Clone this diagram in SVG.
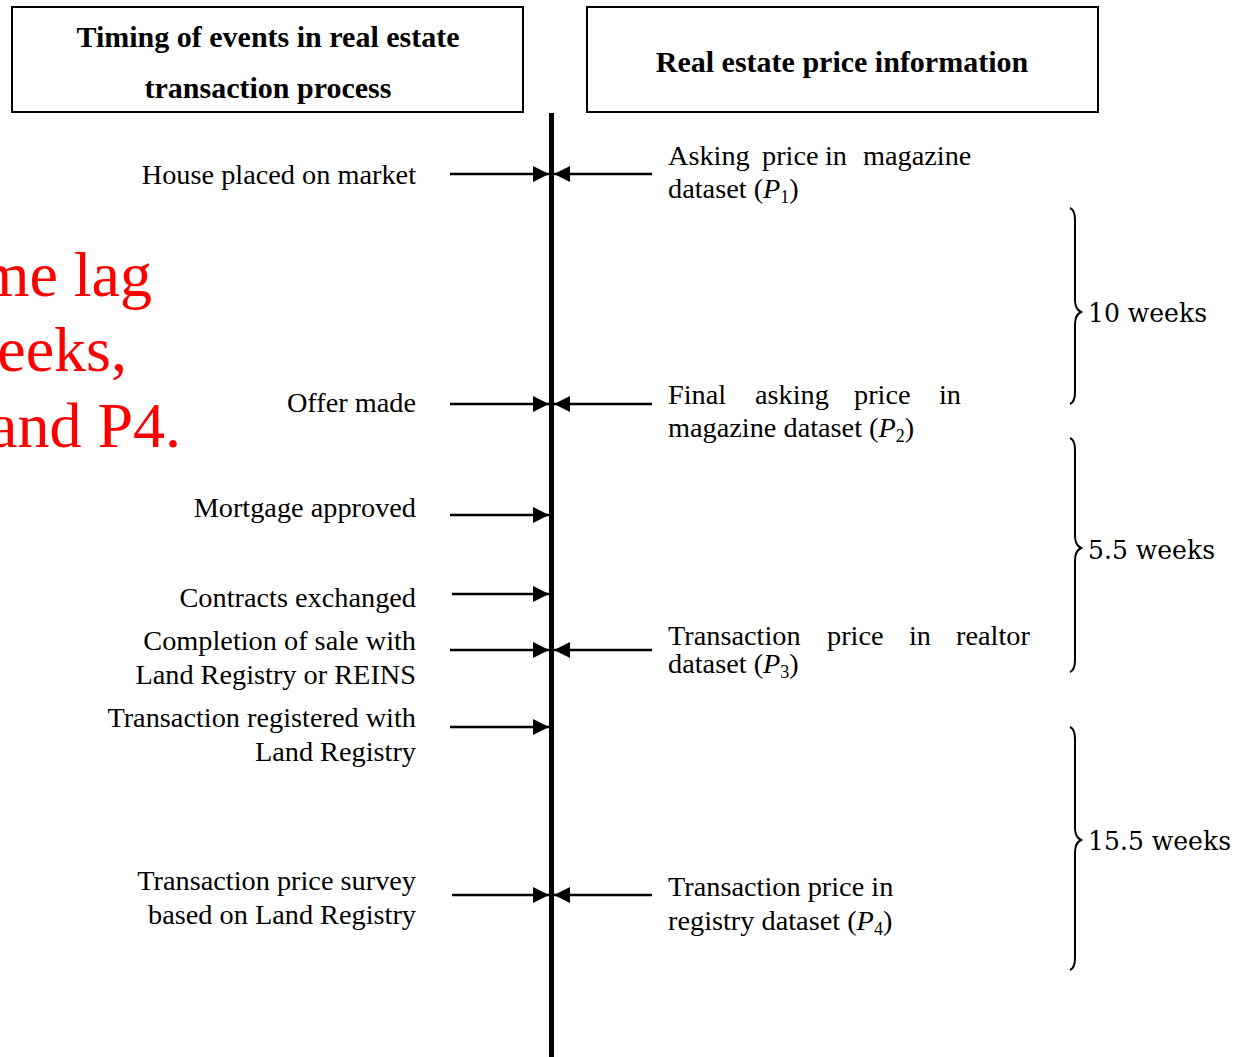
<svg xmlns="http://www.w3.org/2000/svg" width="1234" height="1057" viewBox="0 0 1234 1057">
<style>
.box{fill:#fff;stroke:#000;stroke-width:2}
.title{font-family:"Liberation Serif",serif;font-weight:bold;font-size:30px;fill:#000;text-anchor:middle}
.lt{font-family:"Liberation Serif",serif;font-size:28.3px;fill:#000;text-anchor:end}
.rt{font-family:"Liberation Serif",serif;font-size:28.3px;fill:#000}
.wk{font-family:"DejaVu Serif","Liberation Serif",serif;font-size:26px;fill:#000}
.red{font-family:"Liberation Serif",serif;font-size:64px;fill:#ff0000;text-anchor:end}
.arr{stroke:#000;stroke-width:2.5;fill:none}
.brace{stroke:#000;stroke-width:2;fill:none}
</style>
<defs>
<marker id="ah" markerUnits="userSpaceOnUse" markerWidth="16" markerHeight="18" refX="16" refY="9" orient="auto">
<path d="M0,1 L16,9 L0,17 Z" fill="#000"/>
</marker>
</defs>
<rect width="1234" height="1057" fill="#fff"/>
<g id="red-note">
<text class="red" x="152" y="296">me lag</text>
<text class="red" x="127" y="371">eeks,</text>
<text class="red" x="181" y="447">and P4.</text>
</g>
<g id="header-left">
<rect class="box" x="12" y="7" width="511" height="105"/>
<text class="title" x="268" y="47">Timing of events in real estate</text>
<text class="title" x="268" y="98">transaction process</text>
</g>
<g id="header-right">
<rect class="box" x="587" y="7" width="511" height="105"/>
<text class="title" x="842" y="72">Real estate price information</text>
</g>
<g id="timeline">
<line x1="551.5" y1="113" x2="551.5" y2="1057" stroke="#000" stroke-width="5"/>
</g>
<g id="connectors">
<line class="arr" x1="450" y1="174" x2="549" y2="174" marker-end="url(#ah)"/>
<line class="arr" x1="652" y1="174" x2="554" y2="174" marker-end="url(#ah)"/>
<line class="arr" x1="450" y1="404" x2="549" y2="404" marker-end="url(#ah)"/>
<line class="arr" x1="652" y1="404" x2="554" y2="404" marker-end="url(#ah)"/>
<line class="arr" x1="450" y1="515" x2="549" y2="515" marker-end="url(#ah)"/>
<line class="arr" x1="452" y1="594" x2="549" y2="594" marker-end="url(#ah)"/>
<line class="arr" x1="450" y1="650" x2="549" y2="650" marker-end="url(#ah)"/>
<line class="arr" x1="652" y1="650" x2="554" y2="650" marker-end="url(#ah)"/>
<line class="arr" x1="450" y1="727" x2="549" y2="727" marker-end="url(#ah)"/>
<line class="arr" x1="452" y1="895" x2="549" y2="895" marker-end="url(#ah)"/>
<line class="arr" x1="652" y1="895" x2="554" y2="895" marker-end="url(#ah)"/>
</g>
<g id="event-house"><text class="lt" x="416" y="184">House placed on market</text></g>
<g id="event-offer"><text class="lt" x="416" y="412">Offer made</text></g>
<g id="event-mortgage"><text class="lt" x="416" y="517">Mortgage approved</text></g>
<g id="event-contracts"><text class="lt" x="416" y="607">Contracts exchanged</text></g>
<g id="event-completion"><text class="lt" x="416" y="650">Completion of sale with</text><text class="lt" x="416" y="684">Land Registry or REINS</text></g>
<g id="event-registered"><text class="lt" x="416" y="727">Transaction registered with</text><text class="lt" x="416" y="761">Land Registry</text></g>
<g id="event-survey"><text class="lt" x="416" y="890">Transaction price survey</text><text class="lt" x="416" y="924">based on Land Registry</text></g>
<g id="price-p1"><text class="rt" y="165"><tspan x="668">Asking</tspan><tspan x="762">price</tspan><tspan x="825">in</tspan><tspan x="863">magazine</tspan></text><text class="rt" x="668" y="198">dataset (<tspan font-style="italic">P</tspan><tspan font-size="18" dy="5">1</tspan><tspan dy="-5">)</tspan></text></g>
<g id="price-p2"><text class="rt" y="404"><tspan x="668">Final</tspan><tspan x="755">asking</tspan><tspan x="854">price</tspan><tspan x="939">in</tspan></text><text class="rt" x="668" y="437">magazine dataset (<tspan font-style="italic">P</tspan><tspan font-size="18" dy="5">2</tspan><tspan dy="-5">)</tspan></text></g>
<g id="price-p3"><text class="rt" y="645"><tspan x="668">Transaction</tspan><tspan x="827">price</tspan><tspan x="909">in</tspan><tspan x="956">realtor</tspan></text><text class="rt" x="668" y="673">dataset (<tspan font-style="italic">P</tspan><tspan font-size="18" dy="5">3</tspan><tspan dy="-5">)</tspan></text></g>
<g id="price-p4"><text class="rt" x="668" y="896">Transaction price in</text><text class="rt" x="668" y="930">registry dataset (<tspan font-style="italic">P</tspan><tspan font-size="18" dy="5">4</tspan><tspan dy="-5">)</tspan></text></g>
<g id="brace-10">
<path class="brace" d="M1070,208 Q1075,210 1075,220 L1075,300 Q1075,309 1081,312 Q1075,315 1075,324 L1075,392 Q1075,402 1070,404"/>
<text class="wk" x="1088" y="322" textLength="119" lengthAdjust="spacingAndGlyphs">10 weeks</text>
</g>
<g id="brace-5-5">
<path class="brace" d="M1070,438 Q1075,440 1075,450 L1075,536 Q1075,545 1081,548 Q1075,551 1075,560 L1075,660 Q1075,670 1070,672"/>
<text class="wk" x="1088" y="559" textLength="127" lengthAdjust="spacingAndGlyphs">5.5 weeks</text>
</g>
<g id="brace-15-5">
<path class="brace" d="M1070,727 Q1075,729 1075,739 L1075,828 Q1075,837 1081,840 Q1075,843 1075,852 L1075,958 Q1075,968 1070,970"/>
<text class="wk" x="1088" y="850" textLength="143" lengthAdjust="spacingAndGlyphs">15.5 weeks</text>
</g>
</svg>
